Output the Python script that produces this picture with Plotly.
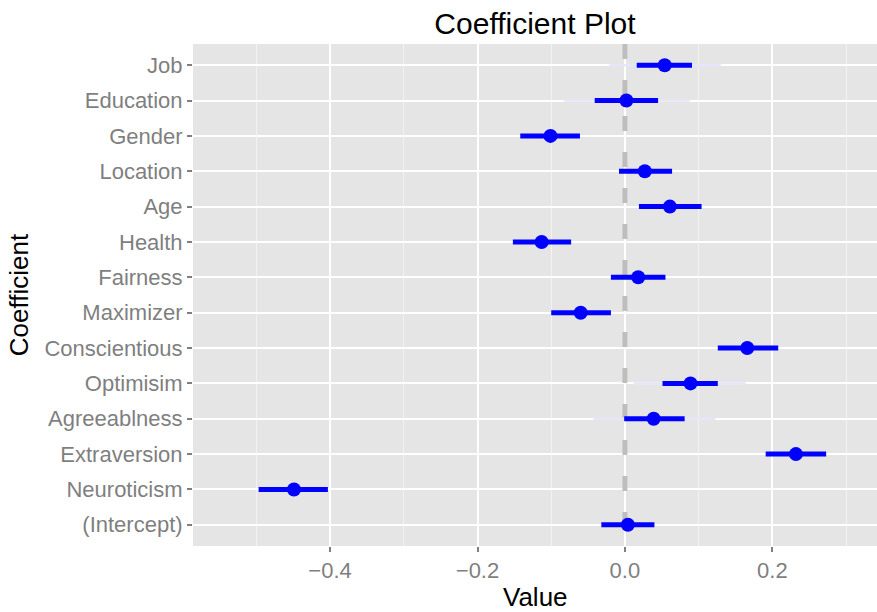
import plotly.graph_objects as go

coefficients = ["Job", "Education", "Gender", "Location", "Age", "Health", "Fairness",
                "Maximizer", "Conscientious", "Optimisim", "Agreeablness", "Extraversion",
                "Neuroticism", "(Intercept)"]
estimate = [0.054, 0.002, -0.101, 0.027, 0.061, -0.113, 0.018, -0.060, 0.166, 0.089,
            0.039, 0.232, -0.449, 0.004]
inner_low = [0.016, -0.041, -0.142, -0.008, 0.019, -0.152, -0.019, -0.100, 0.126, 0.051,
             -0.001, 0.191, -0.497, -0.032]
inner_high = [0.091, 0.045, -0.061, 0.064, 0.104, -0.073, 0.055, -0.019, 0.208, 0.126,
              0.081, 0.273, -0.403, 0.040]
outer_low = [-0.021, -0.083, None, None, None, None, None, None, None, 0.012,
             -0.043, None, None, None]
outer_high = [0.130, 0.088, None, None, None, None, None, None, None, 0.164,
              0.123, None, None, None]
x_ticks = [-0.4, -0.2, 0.0, 0.2]
x_tick_text = ["\u22120.4", "\u22120.2", "0.0", "0.2"]
reference_value = 0.0

n = len(coefficients)
ypos = [n - 1 - i for i in range(n)]  # first category at top
y_lo, y_hi = -0.6, n - 0.4

fig = go.Figure()

# dashed reference line at zero (drawn first: above grid, below marks)
fig.add_trace(go.Scatter(x=[reference_value, reference_value], y=[y_hi, y_lo], mode="lines",
                         line=dict(color="#BEBEBE", width=5, dash="15px,21px"),
                         showlegend=False, hoverinfo="skip"))

# outer (faint) intervals
ox, oy = [], []
for y, lo, hi in zip(ypos, outer_low, outer_high):
    if lo is None:
        continue
    ox += [lo, hi, None]
    oy += [y, y, None]
fig.add_trace(go.Scatter(x=ox, y=oy, mode="lines",
                         line=dict(color="#E6E6FA", width=2.5),
                         showlegend=False, hoverinfo="skip"))

# inner intervals
ix, iy = [], []
for y, lo, hi in zip(ypos, inner_low, inner_high):
    ix += [lo, hi, None]
    iy += [y, y, None]
fig.add_trace(go.Scatter(x=ix, y=iy, mode="lines",
                         line=dict(color="#0000FF", width=5),
                         showlegend=False, hoverinfo="skip"))

fig.add_trace(go.Scatter(x=estimate, y=ypos, mode="markers",
                         marker=dict(color="#0000FF", size=14),
                         text=coefficients, showlegend=False))

fig.update_layout(
    width=877, height=612,
    margin=dict(l=193, r=0, t=44, b=66),
    paper_bgcolor="white",
    plot_bgcolor="#E5E5E5",
    font=dict(family="Liberation Sans, Arial, sans-serif"),
    title=dict(text="Coefficient Plot", x=0.61, xanchor="center", y=0.962,
               yanchor="middle", font=dict(size=30, color="black")),
    annotations=[dict(text="Value", xref="paper", yref="paper", x=0.5, y=-0.102,
                      xanchor="center", yanchor="middle", showarrow=False,
                      font=dict(size=26, color="black"))],
)

fig.update_xaxes(
    range=[-0.586, 0.342],
    tickvals=x_ticks, ticktext=x_tick_text,
    tickfont=dict(size=22, color="#7F7F7F"),
    ticks="outside", ticklen=5, tickwidth=1.5, tickcolor="#7F7F7F",
    showgrid=True, gridcolor="white", gridwidth=2,
    minor=dict(dtick=0.1, tick0=0, showgrid=True, gridcolor="#F2F2F2", gridwidth=1, ticks=""),
    zeroline=False, showline=False,
)
fig.update_yaxes(
    range=[y_lo, y_hi],
    tickvals=ypos, ticktext=coefficients,
    tickfont=dict(size=22, color="#7F7F7F"),
    ticks="outside", ticklen=5, tickwidth=1.5, tickcolor="#7F7F7F",
    showgrid=True, gridcolor="white", gridwidth=2,
    zeroline=False, showline=False,
    title=dict(text="Coefficient", font=dict(size=26, color="black"), standoff=8),
)

fig.write_html("out.html")
